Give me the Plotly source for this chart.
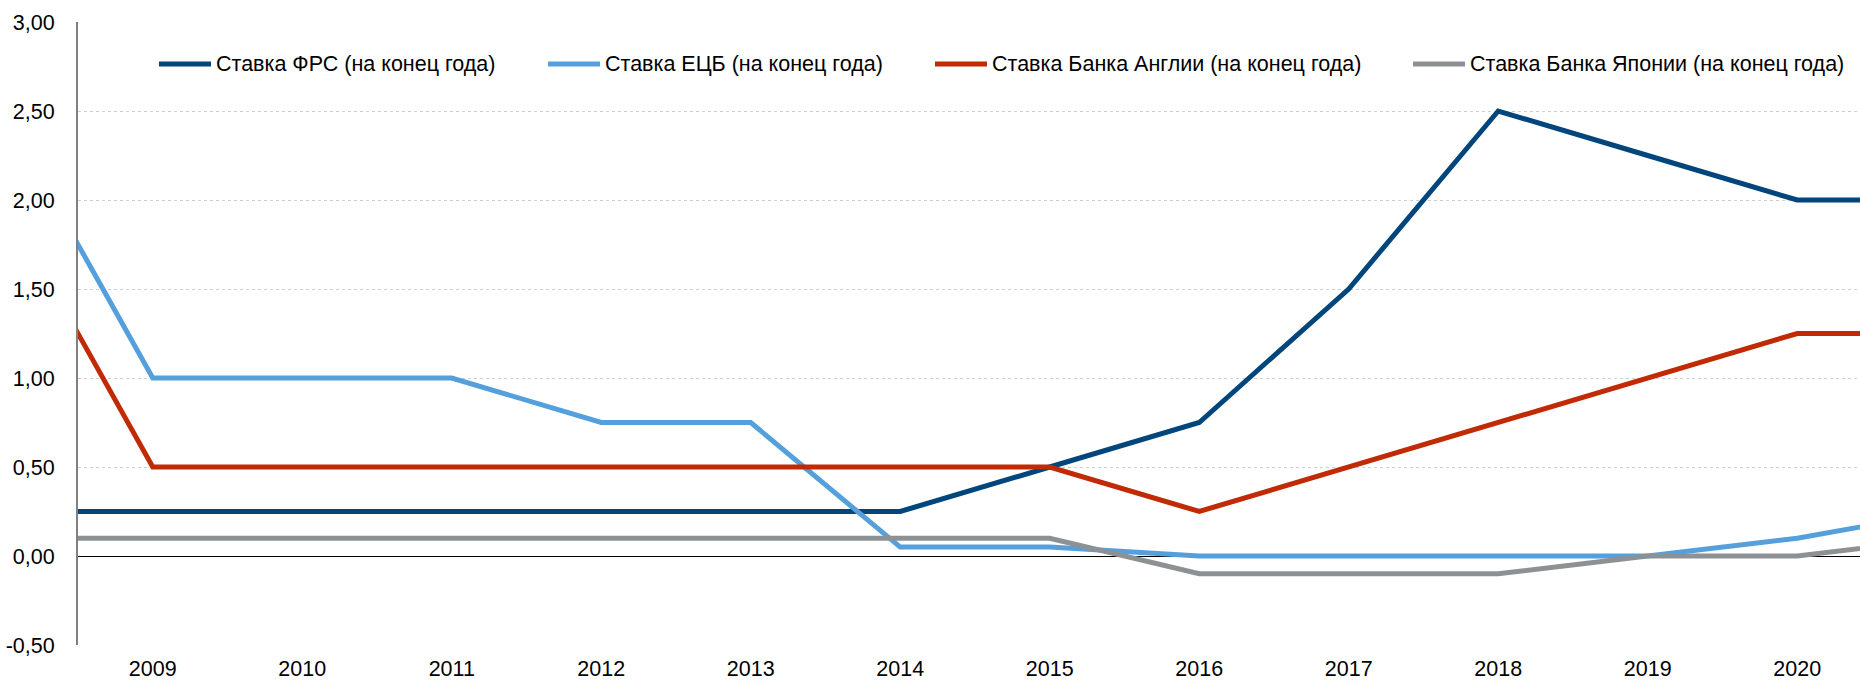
import plotly.graph_objects as go

years = [2008, 2009, 2010, 2011, 2012, 2013, 2014, 2015, 2016, 2017, 2018, 2019, 2020, 2021]
fed = [0.25, 0.25, 0.25, 0.25, 0.25, 0.25, 0.25, 0.50, 0.75, 1.50, 2.50, 2.25, 2.00, 2.00]
ecb = [2.50, 1.00, 1.00, 1.00, 0.75, 0.75, 0.05, 0.05, 0.00, 0.00, 0.00, 0.00, 0.10, 0.25]
boe = [2.00, 0.50, 0.50, 0.50, 0.50, 0.50, 0.50, 0.50, 0.25, 0.50, 0.75, 1.00, 1.25, 1.25]
boj = [0.10, 0.10, 0.10, 0.10, 0.10, 0.10, 0.10, 0.10, -0.10, -0.10, -0.10, 0.00, 0.00, 0.10]

names = [
    "Ставка ФРС (на конец года)",
    "Ставка ЕЦБ (на конец года)",
    "Ставка Банка Англии (на конец года)",
    "Ставка Банка Японии (на конец года)",
]
colors = ["#00457c", "#55a0dc", "#c02a05", "#8e9194"]
series = [fed, ecb, boe, boj]

tick_years = list(range(2009, 2021))
y_ticks = [-0.5, 0.0, 0.5, 1.0, 1.5, 2.0, 2.5, 3.0]
y_tick_text = ["-0,50", "0,00", "0,50", "1,00", "1,50", "2,00", "2,50", "3,00"]

W, H = 1860, 680
L, R, T, B = 78, 0, 22, 35
FS = 21.5

fig = go.Figure()
for name, col, vals in zip(names, colors, series):
    fig.add_trace(go.Scatter(x=years, y=vals, mode="lines", name=name,
                             line=dict(color=col, width=5), showlegend=False,
                             cliponaxis=True, hoverinfo="skip"))

# manual legend (pixel positions converted to paper coords)
plot_w = W - L - R
plot_h = H - T - B
def px(x):
    return (x - L) / plot_w
def py(y):
    return (H - B - y) / plot_h

legend_x = [157, 546, 933, 1411]
legend_y = 64
for lx, name, col in zip(legend_x, names, colors):
    fig.add_shape(type="line", xref="paper", yref="paper",
                  x0=px(lx + 2), x1=px(lx + 54), y0=py(legend_y), y1=py(legend_y),
                  line=dict(color=col, width=5), layer="above")
    fig.add_annotation(xref="paper", yref="paper", x=px(lx + 57), y=py(legend_y),
                       text=name, showarrow=False, xanchor="left", yanchor="middle",
                       font=dict(family="Liberation Sans, Arial", size=FS, color="#000000"))

fig.update_layout(
    width=W, height=H,
    margin=dict(l=L, r=R, t=T, b=B, pad=0, autoexpand=False),
    paper_bgcolor="white", plot_bgcolor="white",
    font=dict(family="Liberation Sans, Arial", size=FS, color="#000000"),
)
fig.update_xaxes(
    range=[2008.5, 2020.42],
    tickmode="array", tickvals=tick_years, ticktext=[str(y) for y in tick_years],
    showgrid=False, zeroline=False, showline=False, ticks="",
    ticklabelstandoff=8, automargin=False,
)
fig.update_yaxes(
    range=[-0.5, 3.0],
    tickmode="array", tickvals=y_ticks, ticktext=y_tick_text,
    showgrid=True, gridcolor="#cfcfcf", griddash="dot", gridwidth=1,
    zeroline=True, zerolinecolor="#000000", zerolinewidth=1,
    showline=True, linecolor="#808080", linewidth=2,
    ticks="", ticklabelstandoff=17, automargin=False,
)

fig.write_html(
    "out.html",
    config={"displayModeBar": False},
    post_script="document.body.style.margin='0';document.body.style.overflow='hidden';",
)
